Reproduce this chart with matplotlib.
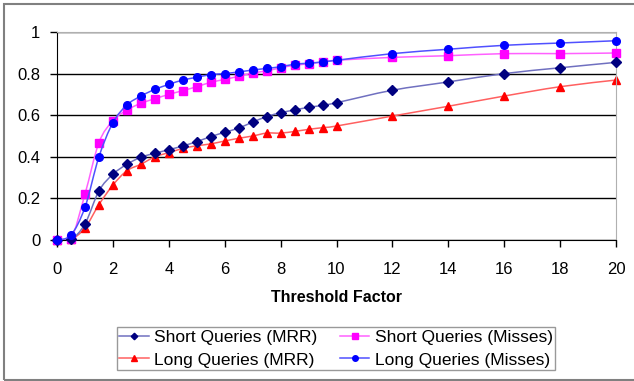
import matplotlib
matplotlib.use("Agg")
import matplotlib.pyplot as plt
from matplotlib.path import Path
from matplotlib.patches import PathPatch, Rectangle
from matplotlib.lines import Line2D
import numpy as np

plt.rcParams['font.family'] = ['Liberation Sans', 'DejaVu Sans']

# threshold factor values
x = [0, 0.5, 1, 1.5, 2, 2.5, 3, 3.5, 4, 4.5, 5, 5.5, 6, 6.5, 7, 7.5, 8, 8.5,
     9, 9.5, 10, 12, 14, 16, 18, 20]

short_mrr = [0, 0.003, 0.077, 0.236, 0.316, 0.364, 0.398, 0.417, 0.434, 0.452,
             0.473, 0.497, 0.518, 0.538, 0.567, 0.593, 0.612, 0.625, 0.638,
             0.647, 0.66, 0.72, 0.76, 0.80, 0.828, 0.854]
short_misses = [0, 0.005, 0.22, 0.468, 0.574, 0.625, 0.657, 0.679, 0.70, 0.718,
                0.737, 0.758, 0.772, 0.787, 0.803, 0.813, 0.828, 0.84, 0.847,
                0.856, 0.864, 0.878, 0.886, 0.896, 0.896, 0.899]
long_mrr = [0, 0.003, 0.058, 0.17, 0.264, 0.333, 0.364, 0.40, 0.42, 0.44,
            0.453, 0.462, 0.476, 0.489, 0.50, 0.514, 0.514, 0.522, 0.532,
            0.54, 0.548, 0.596, 0.643, 0.692, 0.737, 0.769]
long_misses = [0, 0.024, 0.157, 0.40, 0.564, 0.649, 0.692, 0.724, 0.748, 0.769,
               0.782, 0.795, 0.80, 0.808, 0.817, 0.825, 0.833, 0.845, 0.85,
               0.856, 0.864, 0.896, 0.917, 0.936, 0.947, 0.958]


def smooth_path(xs, ys):
    # excel style smoothed line (catmull-rom as cubic bezier)
    p = np.column_stack([xs, ys]).astype(float)
    verts = [p[0]]
    codes = [Path.MOVETO]
    n = len(p)
    for i in range(n - 1):
        p0 = p[i - 1] if i > 0 else p[i]
        p3 = p[i + 2] if i + 2 < n else p[i + 1]
        c1 = p[i] + (p[i + 1] - p0) / 6
        c2 = p[i + 1] - (p3 - p[i]) / 6
        verts += [c1, c2, p[i + 1]]
        codes += [Path.CURVE4] * 3
    return Path(verts, codes)


series = [
    ("Short Queries (MRR)", short_mrr, "#000080", "#7070c0", "D", 4.8),
    ("Short Queries (Misses)", short_misses, "#ff00ff", "#ff60ff", "s", 5.5),
    ("Long Queries (MRR)", long_mrr, "#ff0000", "#ff6060", "^", 6.2),
    ("Long Queries (Misses)", long_misses, "#0000ff", "#5050ff", "o", 5.5),
]

fig = plt.figure(figsize=(6.34, 3.81), dpi=100)
ax = fig.add_axes([57 / 634, 1 - 240 / 381, 559 / 634, 208 / 381])

handles = {}
for z, (label, ys, mcol, lcol, mk, ms) in zip([4, 3, 2, 5], series):
    ax.add_patch(PathPatch(smooth_path(x, ys), fill=False, edgecolor=lcol,
                           linewidth=1.1, zorder=z))
    ax.plot(x, ys, linestyle='none', marker=mk, markersize=ms, color=mcol,
            markeredgecolor=mcol, zorder=z + 0.5, clip_on=False)
    handles[label] = Line2D([], [], color=lcol, linewidth=1.1, marker=mk,
                            markersize=ms - 1.5, markerfacecolor=mcol,
                            markeredgecolor=mcol)

ax.set_xlim(0, 20)
ax.set_ylim(0, 1)
ax.set_xticks(range(0, 21, 2))
ax.set_yticks([0, 0.2, 0.4, 0.6, 0.8, 1])
ax.set_yticklabels(["0", "0.2", "0.4", "0.6", "0.8", "1"])
ax.yaxis.grid(True, color='black', linewidth=1)
ax.set_axisbelow(True)
ax.tick_params(axis='both', direction='out', length=5, width=1,
               labelsize=12, color='black')
ax.tick_params(axis='x', pad=11)
ax.tick_params(axis='y', pad=7)
for s in ['top', 'right']:
    ax.spines[s].set_color('#b0b0b0')
for s in ['left', 'bottom']:
    ax.spines[s].set_color('black')
ax.set_xlabel("Threshold Factor", fontsize=11.5, fontweight='bold', labelpad=9)

order = ["Short Queries (MRR)", "Long Queries (MRR)",
         "Short Queries (Misses)", "Long Queries (Misses)"]
leg = fig.legend([handles[k] for k in order], order, ncol=2, loc='center',
                 bbox_to_anchor=(336 / 634, 1 - 348.5 / 381), fontsize=12.5,
                 frameon=True, fancybox=False, edgecolor='#808080',
                 handlelength=1.7, handletextpad=0.3, columnspacing=1.3,
                 labelspacing=0.45, borderpad=0.15, borderaxespad=0)
leg.get_frame().set_linewidth(1)

# outer chart border
fig.patches.append(Rectangle((3.5 / 634, 1 / 381), 1.0, 376 / 381,
                             transform=fig.transFigure, fill=False,
                             edgecolor='#808080', linewidth=1.5))

fig.savefig("out.png", dpi=100)
